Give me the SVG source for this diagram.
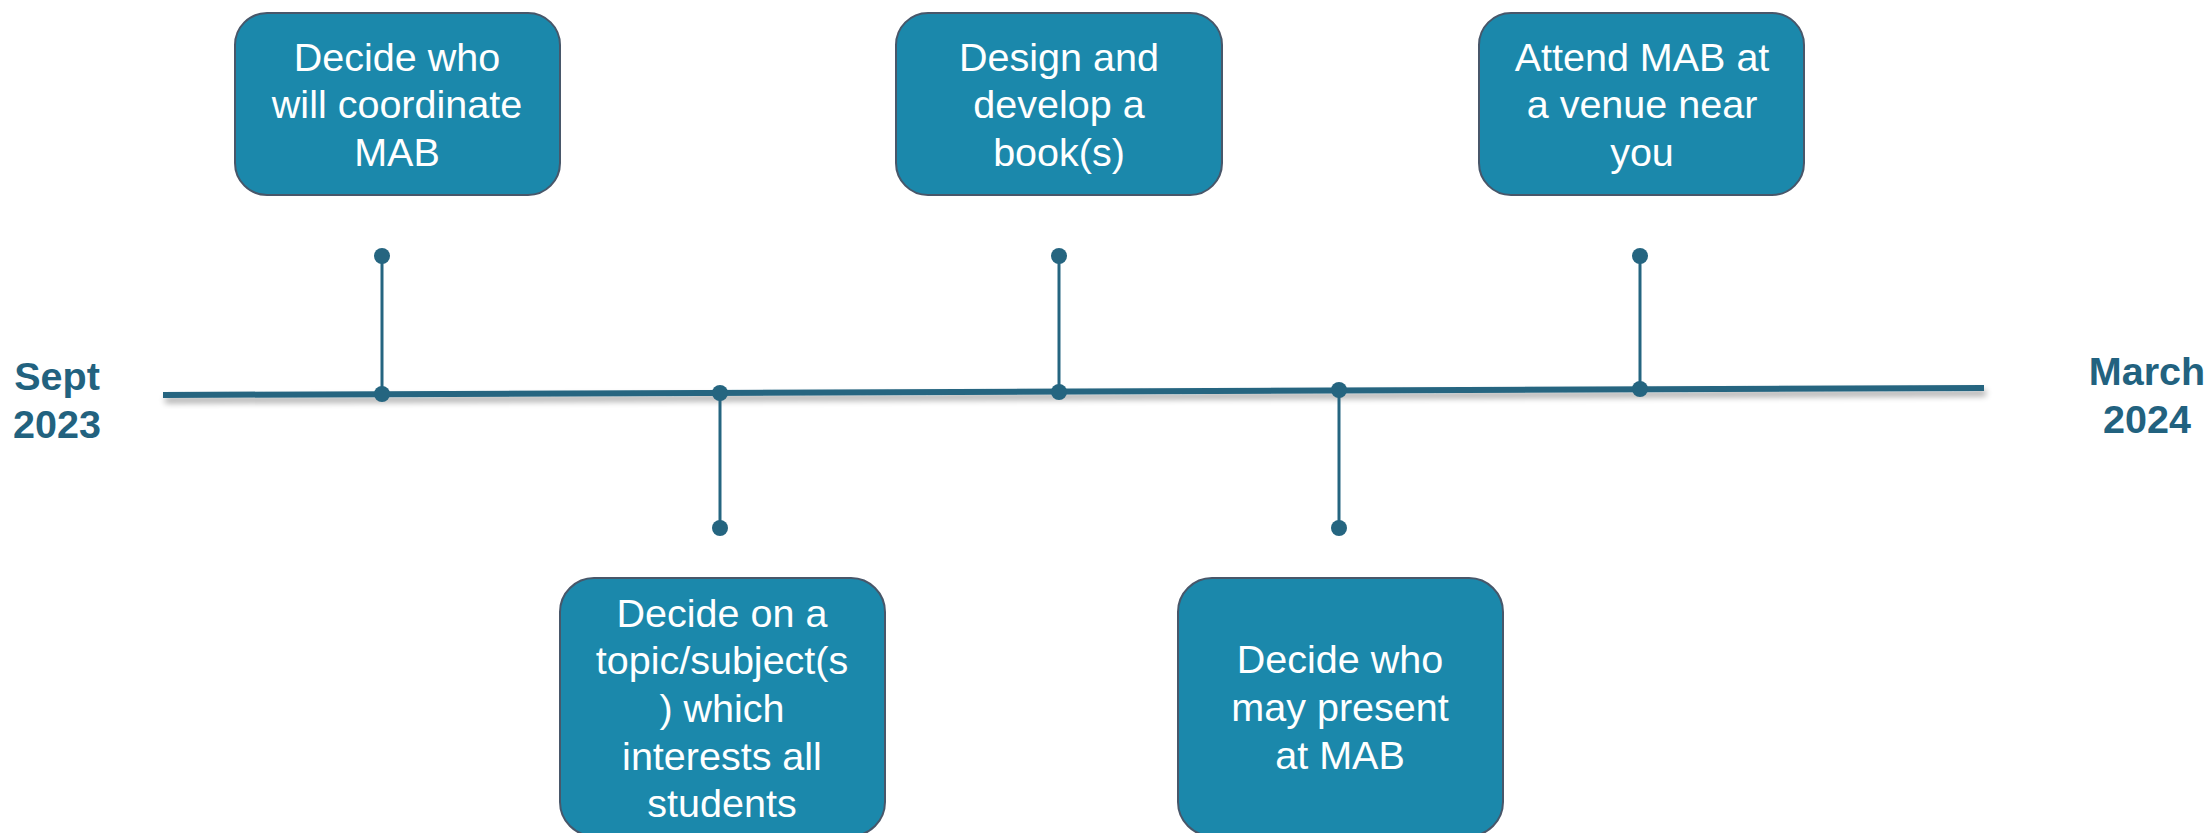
<svg xmlns="http://www.w3.org/2000/svg" width="2211" height="833" viewBox="0 0 2211 833">
  <style>
    .box { fill: #1b88ab; stroke: #48576a; stroke-width: 2; }
    .btxt { font-family: "Liberation Sans", Arial, sans-serif; font-size: 39.5px; fill: #ffffff; text-anchor: middle; }
    .date { font-family: "Liberation Sans", Arial, sans-serif; font-size: 39.5px; font-weight: bold; fill: #22627f; text-anchor: middle; }
    .stem { stroke: #256580; stroke-width: 3; fill: none; }
    .dot { fill: #256580; }
  </style>
  <defs>
    <filter id="shadow" x="-5%" y="-200%" width="110%" height="500%">
      <feGaussianBlur in="SourceAlpha" stdDeviation="3"/>
      <feOffset dx="2" dy="5" result="b"/>
      <feComponentTransfer><feFuncA type="linear" slope="0.35"/></feComponentTransfer>
      <feMerge><feMergeNode/><feMergeNode in="SourceGraphic"/></feMerge>
    </filter>
  </defs>

  <g id="timeline">
    <line x1="163" y1="395" x2="1984" y2="388" stroke="#256580" stroke-width="6" filter="url(#shadow)"/>
  </g>

  <g id="connectors">
    <line class="stem" x1="382" y1="256" x2="382" y2="394"/>
    <circle class="dot" cx="382" cy="256" r="8"/>
    <circle class="dot" cx="382" cy="394" r="8"/>
    <line class="stem" x1="720" y1="393" x2="720" y2="528"/>
    <circle class="dot" cx="720" cy="393" r="8"/>
    <circle class="dot" cx="720" cy="528" r="8"/>
    <line class="stem" x1="1059" y1="256" x2="1059" y2="392"/>
    <circle class="dot" cx="1059" cy="256" r="8"/>
    <circle class="dot" cx="1059" cy="392" r="8"/>
    <line class="stem" x1="1339" y1="390" x2="1339" y2="528"/>
    <circle class="dot" cx="1339" cy="390" r="8"/>
    <circle class="dot" cx="1339" cy="528" r="8"/>
    <line class="stem" x1="1640" y1="256" x2="1640" y2="389"/>
    <circle class="dot" cx="1640" cy="256" r="8"/>
    <circle class="dot" cx="1640" cy="389" r="8"/>
  </g>

  <g id="date-start">
    <text class="date" x="57" y="390">Sept</text>
    <text class="date" x="57" y="438">2023</text>
  </g>
  <g id="date-end">
    <text class="date" x="2147" y="385">March</text>
    <text class="date" x="2147" y="433">2024</text>
  </g>

  <g id="node1">
    <rect class="box" x="235" y="13" width="325" height="182" rx="32"/>
    <text class="btxt" x="397" y="71">Decide who</text>
    <text class="btxt" x="397" y="118">will coordinate</text>
    <text class="btxt" x="397" y="166">MAB</text>
  </g>

  <g id="node2">
    <rect class="box" x="560" y="578" width="325" height="258" rx="34"/>
    <text class="btxt" x="722" y="627">Decide on a</text>
    <text class="btxt" x="722" y="674">topic/subject(s</text>
    <text class="btxt" x="722" y="722">) which</text>
    <text class="btxt" x="722" y="770">interests all</text>
    <text class="btxt" x="722" y="817">students</text>
  </g>

  <g id="node3">
    <rect class="box" x="896" y="13" width="326" height="182" rx="32"/>
    <text class="btxt" x="1059" y="71">Design and</text>
    <text class="btxt" x="1059" y="118">develop a</text>
    <text class="btxt" x="1059" y="166">book(s)</text>
  </g>

  <g id="node4">
    <rect class="box" x="1178" y="578" width="325" height="258" rx="34"/>
    <text class="btxt" x="1340" y="673">Decide who</text>
    <text class="btxt" x="1340" y="721">may present</text>
    <text class="btxt" x="1340" y="769">at MAB</text>
  </g>

  <g id="node5">
    <rect class="box" x="1479" y="13" width="325" height="182" rx="32"/>
    <text class="btxt" x="1642" y="71">Attend MAB at</text>
    <text class="btxt" x="1642" y="118">a venue near</text>
    <text class="btxt" x="1642" y="166">you</text>
  </g>
</svg>
